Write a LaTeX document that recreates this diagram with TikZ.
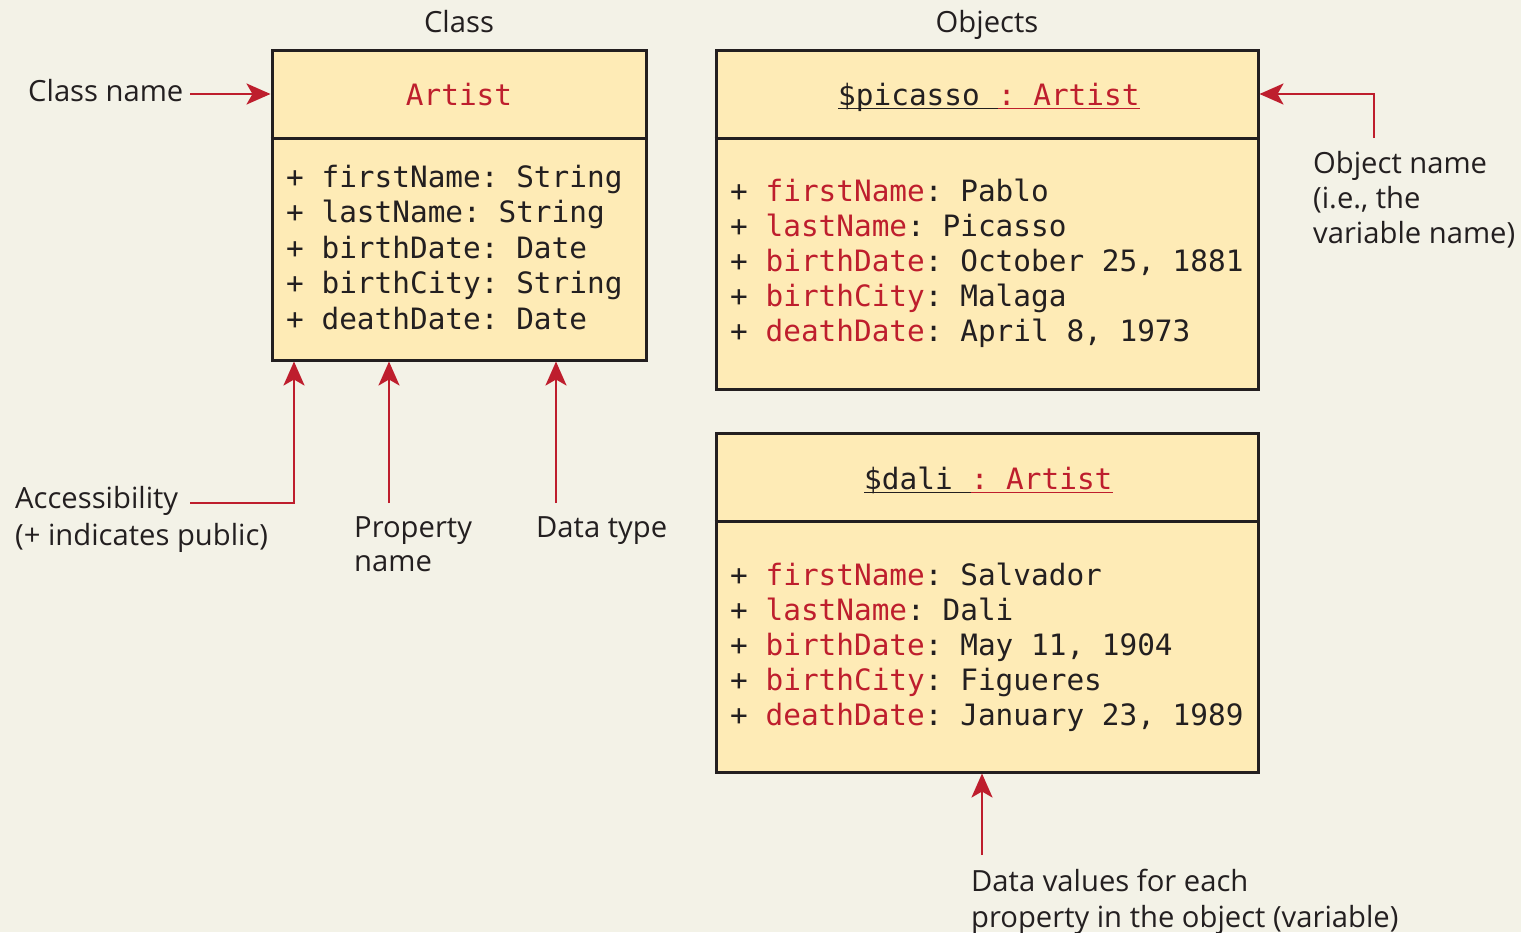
\documentclass[tikz,border=0pt]{standalone}
\usepackage{fontspec}
\setmainfont{Open Sans}
\newfontfamily\monof{DejaVu Sans Mono}
\usetikzlibrary{arrows.meta}
\definecolor{bgc}{HTML}{F3F2E7}
\definecolor{boxc}{HTML}{FEEBB6}
\definecolor{redc}{HTML}{BE1E2D}
\definecolor{inkc}{HTML}{231F20}
\begin{document}
\begin{tikzpicture}[x=1pt,y=-1pt,
  lbl/.style={font=\frenchspacing\fontsize{29.2}{35}\selectfont, text=inkc, inner sep=0pt, anchor=base west},
  ttl/.style={lbl, anchor=base},
  ubox/.style={draw=inkc, fill=boxc, line width=3pt, inner sep=0pt},
  divl/.style={draw=inkc, line width=3pt},
  clsattr/.style={font=\frenchspacing\monof\fontsize{29.4}{35}\selectfont, text=inkc, inner sep=0pt, anchor=base west},
  objattr/.style={clsattr},
  hdr/.style={objattr},
  arr/.style={draw=redc, line width=2.8pt, -{Stealth[length=24pt,width=21pt,inset=6pt]}},
]
\useasboundingbox[fill=bgc] (0,0) rectangle (1521,932);

% boxes
\node[ubox, minimum width=374pt, minimum height=310pt] (cls) at (459,205) {};
\node[ubox, minimum width=542pt, minimum height=339pt] (pic) at (987,219.5) {};
\node[ubox, minimum width=542pt, minimum height=339pt] (dali) at (987,602.5) {};
\coordinate (d1) at (0,138);
\coordinate (d2) at (0,521);
\draw[divl] (cls.west |- d1) -- (cls.east |- d1);
\draw[divl] (pic.west |- d1) -- (pic.east |- d1);
\draw[divl] (dali.west |- d2) -- (dali.east |- d2);

% titles
\node[ttl] (tcls) at (459,32) {Class};
\node[ttl] (tobj) at (987,32) {Objects};

% class box
\node[clsattr, anchor=base, text=redc] (clsh) at (459,105) {Artist};
\node[clsattr] (c1) at (286,187) {+ firstName: String};
\node[clsattr] (c2) at (286,222.5) {+ lastName: String};
\node[clsattr] (c3) at (286,258) {+ birthDate: Date};
\node[clsattr] (c4) at (286,293.5) {+ birthCity: String};
\node[clsattr] (c5) at (286,329) {+ deathDate: Date};

% picasso
\node[hdr] (pn) at (838,105) {\$picasso\hphantom{x}};
\node[hdr, text=redc] (pc) at (pn.base east) {:\ Artist};
\draw[inkc, line width=1.6pt] ([yshift=-3.5pt]pn.base west) -- ([yshift=-3.5pt]pn.base east);
\draw[redc, line width=1.6pt] ([yshift=-3.5pt]pc.base west) -- ([yshift=-3.5pt]pc.base east);
\node[objattr] (p1) at (730,201.7) {+ {\color{redc}firstName}: Pablo};
\node[objattr] (p2) at (730,236.7) {+ {\color{redc}lastName}: Picasso};
\node[objattr] (p3) at (730,271.7) {+ {\color{redc}birthDate}: October 25, 1881};
\node[objattr] (p4) at (730,306.7) {+ {\color{redc}birthCity}: Malaga};
\node[objattr] (p5) at (730,341.7) {+ {\color{redc}deathDate}: April 8, 1973};

% dali
\node[hdr] (dn) at (864,489) {\$dali\hphantom{x}};
\node[hdr, text=redc] (dc) at (dn.base east) {:\ Artist};
\draw[inkc, line width=1.6pt] ([yshift=-3.5pt]dn.base west) -- ([yshift=-3.5pt]dn.base east);
\draw[redc, line width=1.6pt] ([yshift=-3.5pt]dc.base west) -- ([yshift=-3.5pt]dc.base east);
\node[objattr] (q1) at (730,585) {+ {\color{redc}firstName}: Salvador};
\node[objattr] (q2) at (730,620) {+ {\color{redc}lastName}: Dali};
\node[objattr] (q3) at (730,655) {+ {\color{redc}birthDate}: May 11, 1904};
\node[objattr] (q4) at (730,690) {+ {\color{redc}birthCity}: Figueres};
\node[objattr] (q5) at (730,725) {+ {\color{redc}deathDate}: January 23, 1989};

% labels
\node[lbl] (lcn) at (28,101.7) {Class name};
\node[lbl] (lacc1) at (15,508) {Accessibility};
\node[lbl] (lacc2) at (15,545) {(+ indicates public)};
\node[lbl] (lpn1) at (354,537) {Property};
\node[lbl] (lpn2) at (354,571) {name};
\node[lbl] (ldt) at (536,537) {Data type};
\node[lbl] (lon1) at (1313,173) {Object name};
\node[lbl] (lon2) at (1313,208) {(i.e., the};
\node[lbl] (lon3) at (1313,243) {variable name)};
\node[lbl] (ldv1) at (971,891) {Data values for each};
\node[lbl] (ldv2) at (971,927) {property in the object (variable)};

% connectors
\coordinate (cnS) at (190,94);
\draw[arr] (cnS) -- (cls.west |- cnS);
\coordinate (accS) at (190,503);
\coordinate (accX) at (294,0);
\draw[arr] (accS) -| (cls.south -| accX);
\coordinate (pnS) at (389,503);
\draw[arr] (pnS) -- (cls.south -| pnS);
\coordinate (dtS) at (556,503);
\draw[arr] (dtS) -- (cls.south -| dtS);
\coordinate (onS) at (1374,138);
\coordinate (onY) at (0,94);
\draw[arr] (onS) |- (pic.east |- onY);
\coordinate (dvS) at (982,855);
\draw[arr] (dvS) -- (dali.south -| dvS);
\end{tikzpicture}
\end{document}
